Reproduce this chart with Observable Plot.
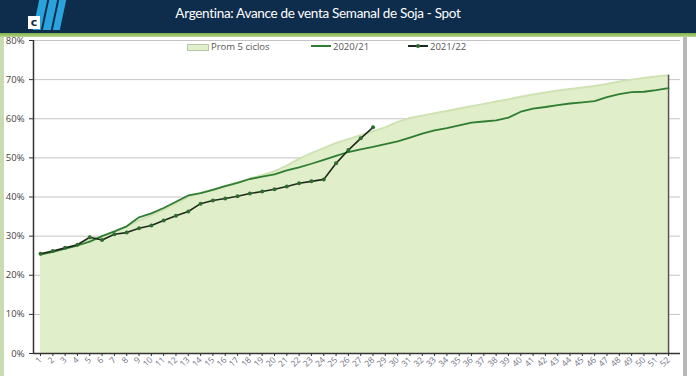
<!DOCTYPE html>
<html><head><meta charset="utf-8">
<script src="https://cdn.jsdelivr.net/npm/d3@7"></script>
<script src="https://cdn.jsdelivr.net/npm/@observablehq/plot@0.6"></script>
<style>
html,body{margin:0;padding:0;background:#fff;}
#wrap{position:relative;width:696px;height:376px;overflow:hidden;background:#fff;font-family:"Open Sans",sans-serif;}
#header{position:absolute;left:0;top:0;width:696px;height:33px;background:#0e2c4c;}
#strip{position:absolute;left:0;top:33px;width:696px;height:4px;background:linear-gradient(#7fae4a,#b9d88f);}
#title{position:absolute;left:0;top:5px;width:636px;text-align:center;color:#fff;font-family:Lato,sans-serif;font-size:13.5px;letter-spacing:-0.3px;}
#logo{position:absolute;left:22px;top:0;width:44px;height:30px;}
.bar{position:absolute;top:0;width:8px;height:30px;background:#2aa3dd;transform:skewX(-12deg);}
#cbox{position:absolute;left:28px;top:16px;width:12px;height:13px;background:#fff;color:#0e2c4c;font:bold 11px/13px "DejaVu Sans",sans-serif;text-align:center;}
#leftb{position:absolute;left:0;top:37px;width:4px;height:339px;background:#c9dbb0;}
#rightb{position:absolute;left:683px;top:37px;width:4px;height:339px;background:#b8b8b8;}
#chart{position:absolute;left:0;top:37px;}
#legend{position:absolute;top:40px;left:0;font-size:9.5px;color:#555;}
.li{position:absolute;top:0;white-space:nowrap;}
</style></head>
<body><div id="wrap">
<div id="header"></div>
<div id="logo">
  <div class="bar" style="left:14px"></div>
  <div class="bar" style="left:24px"></div>
  <div class="bar" style="left:34px;width:7px"></div>
</div>
<div id="cbox">c</div>
<div id="title">Argentina: Avance de venta Semanal de Soja - Spot</div>
<div id="strip"></div>
<div id="leftb"></div>
<div id="rightb"></div>
<div id="chart"></div>
<div id="legend">
  <div class="li" style="left:187px"><span style="display:inline-block;width:20px;height:5px;background:#e2efcc;border:1px solid #b9c9a5;vertical-align:-1px;margin-right:2px"></span>Prom 5 ciclos</div>
  <div class="li" style="left:311px"><span style="display:inline-block;width:20px;height:2px;background:#2e7d32;vertical-align:3px;margin-right:2px"></span>2020/21</div>
  <div class="li" style="left:408px"><span style="display:inline-block;width:20px;height:2px;background:#1f2a1f;vertical-align:3px;margin-right:2px;position:relative"><span style="position:absolute;left:8px;top:-1.5px;width:4px;height:4px;border-radius:2px;background:#2e6b2e"></span></span>2021/22</div>
</div>
</div>
<script>
const weeks = d3.range(1, 53);
const prom5 = [25.5,26.0,26.8,27.8,29.0,30.0,31.0,32.5,34.0,35.3,36.8,38.4,40.0,41.0,41.9,42.8,43.7,44.7,45.6,46.6,48.0,49.8,51.2,52.5,53.8,54.8,55.8,56.8,57.8,59.2,60.2,60.8,61.4,62.0,62.6,63.2,63.8,64.4,65.0,65.6,66.2,66.7,67.2,67.6,68.0,68.4,68.9,69.5,70.0,70.4,70.8,71.1];
const s2021 = [25.3,26.0,26.8,27.6,28.6,30.0,31.2,32.5,34.8,35.8,37.2,38.8,40.4,41.0,41.8,42.8,43.6,44.6,45.2,45.8,46.8,47.6,48.5,49.5,50.5,51.5,52.2,52.8,53.5,54.2,55.2,56.2,57.0,57.6,58.3,59.0,59.3,59.6,60.3,61.8,62.6,63.0,63.5,63.9,64.2,64.5,65.5,66.3,66.8,66.9,67.3,67.8];
const s2122 = [25.5,26.2,27.0,27.8,29.7,29.0,30.5,30.9,32.0,32.7,34.0,35.2,36.3,38.3,39.1,39.6,40.2,40.9,41.4,42.0,42.7,43.5,44.0,44.5,48.6,52.0,55.0,57.8];
const yTicks = [0,10,20,30,40,50,60,70,80];
const xDomain = [0.43, 52.97];

const prom = weeks.map((w,i)=>({week:w, v:prom5[i]/100}));
const d21 = weeks.map((w,i)=>({week:w, v:s2021[i]/100}));
const d22 = s2122.map((v,i)=>({week:i+1, v:v/100}));

const chart = Plot.plot({
  width: 696, height: 339,
  marginTop: 3, marginBottom: 23, marginLeft: 33, marginRight: 16,
  style: {fontFamily: "'Open Sans', sans-serif", background: "transparent", overflow: "visible"},
  x: {type: "linear", domain: xDomain},
  y: {domain: [0, 0.8]},
  marks: [
    Plot.gridY(yTicks.map(d=>d/100), {stroke: "#c4c4c4", strokeOpacity: 1}),
    Plot.areaY(prom, {x: "week", y: "v", fill: "#e0efc9"}),
    Plot.lineY(prom, {x: "week", y: "v", stroke: "#cfe2b4", strokeWidth: 2}),
    Plot.ruleX([prom[prom.length-1]], {x: "week", y1: 0, y2: "v", stroke: "#555", strokeWidth: 1.5}),
    Plot.lineY(d21, {x: "week", y: "v", stroke: "#2e7d32", strokeWidth: 1.8}),
    Plot.lineY(d22, {x: "week", y: "v", stroke: "#1f2a1f", strokeWidth: 1.6}),
    Plot.dot(d22, {x: "week", y: "v", r: 2, fill: "#2e6b2e"}),
    Plot.ruleX([xDomain[0]], {stroke: "#333", strokeWidth: 1.5}),
    Plot.ruleY([0], {stroke: "#333", strokeWidth: 1.5}),
    Plot.axisY(yTicks.map(d=>d/100), {tickFormat: d=>Math.round(d*100)+"%", tickSize: 4, label: null, fontSize: 9.5, color: "#444", stroke: "#333"}),
    Plot.axisX(weeks, {tickRotate: -45, tickSize: 3, label: null, fontSize: 8.5, color: "#707080", stroke: "#333", tickPadding: 2})
  ]
});
document.getElementById("chart").appendChild(chart);
</script>
</body></html>
